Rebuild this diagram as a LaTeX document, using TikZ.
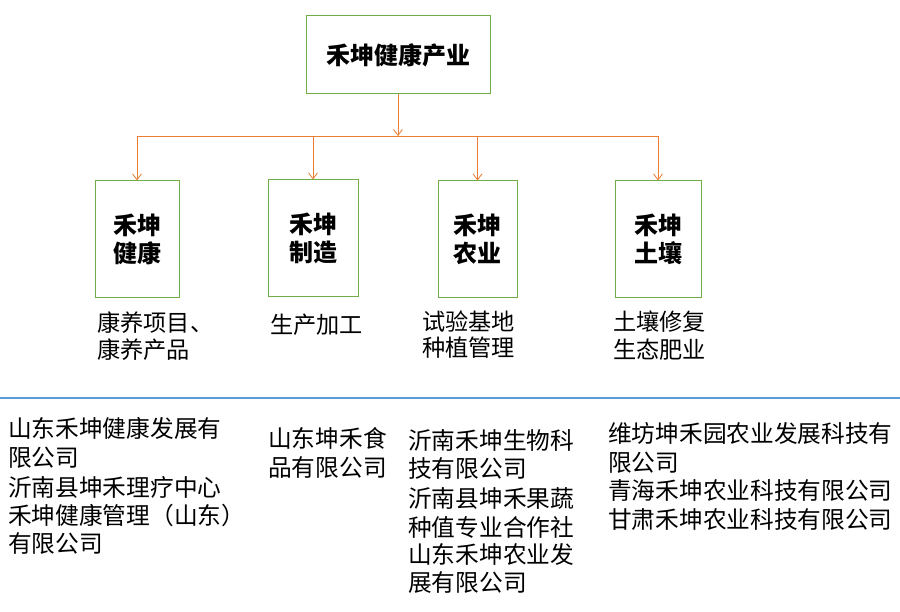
\documentclass[tikz,border=0pt]{standalone}
\usepackage{fontspec}
\setmainfont{Noto Sans CJK SC}
\usetikzlibrary{arrows.meta}
\definecolor{boxgreen}{HTML}{70AD47}
\definecolor{arrorange}{HTML}{ED7D31}
\definecolor{lineblue}{HTML}{5B9BD5}
\tikzset{
  unitbox/.style={draw=boxgreen, line width=1pt, inner sep=0pt, align=center,
    font=\fontsize{24}{28}\selectfont\bfseries},
  conn/.style={draw=arrorange, line width=0.8pt},
  arr/.style={conn, -{Straight Barb[length=6pt,width=9pt,line width=0.8pt]}},
  lbl/.style={anchor=base west, inner sep=0pt, font=\fontsize{23.2}{26}\selectfont},
  body/.style={anchor=base west, inner sep=0pt, font=\fontsize{23.7}{28}\selectfont},
}
\begin{document}
\begin{tikzpicture}[x=1pt,y=-1pt]
\useasboundingbox (0,0) rectangle (900,612);
% boxes
\node[unitbox, minimum width=184pt, minimum height=78pt] (top) at (398,55) {禾坤健康产业};
\node[unitbox, minimum width=84pt, minimum height=117pt] (b1) at (137,239.5) {禾坤\\健康};
\node[unitbox, minimum width=90pt, minimum height=117pt] (b2) at (313,238.5) {禾坤\\制造};
\node[unitbox, minimum width=79pt, minimum height=117pt] (b3) at (477.5,239.5) {禾坤\\农业};
\node[unitbox, minimum width=86pt, minimum height=117pt] (b4) at (658,239.5) {禾坤\\土壤};
% connectors
\coordinate (busL) at (137,136);
\coordinate (busR) at (658,136);
\draw[conn] (busL) -- (busR);
\draw[arr] (top.south) -- (top.south |- busL);
\draw[arr] (b1.north |- busL) -- (b1.north);
\draw[arr] (b2.north |- busL) -- (b2.north);
\draw[arr] (b3.north |- busL) -- (b3.north);
\draw[arr] (b4.north |- busL) -- (b4.north);
% labels
\node[lbl] (l1a) at (97,331.5) {康养项目、};
\node[lbl] (l1b) at (97,358.5) {康养产品};
\node[lbl] (l2a) at (270,333.5) {生产加工};
\node[lbl] (l3a) at (422,330.5) {试验基地};
\node[lbl] (l3b) at (422,356.5) {种植管理};
\node[lbl] (l4a) at (613,330.5) {土壤修复};
\node[lbl] (l4b) at (613,358.5) {生态肥业};
% separator
\coordinate (sepL) at (0,398);
\coordinate (sepR) at (900,398);
\draw[lineblue, line width=1.2pt] (sepL) -- (sepR);
% companies
\node[body] (c1a) at (8,437) {山东禾坤健康发展有};
\node[body] (c1b) at (8,466) {限公司};
\node[body] (c1c) at (8,496) {沂南县坤禾理疗中心};
\node[body] (c1d) at (8,524) {禾坤健康管理（山东）};
\node[body] (c1e) at (8,552) {有限公司};
\node[body] (c2a) at (268,447) {山东坤禾食};
\node[body] (c2b) at (268,476) {品有限公司};
\node[body] (c3a) at (408,449) {沂南禾坤生物科};
\node[body] (c3b) at (408,477) {技有限公司};
\node[body] (c3c) at (408,507) {沂南县坤禾果蔬};
\node[body] (c3d) at (408,536) {种值专业合作社};
\node[body] (c3e) at (408,563) {山东禾坤农业发};
\node[body] (c3f) at (408,591) {展有限公司};
\node[body] (c4a) at (608,442) {维坊坤禾园农业发展科技有};
\node[body] (c4b) at (608,471) {限公司};
\node[body] (c4c) at (608,499) {青海禾坤农业科技有限公司};
\node[body] (c4d) at (608,528) {甘肃禾坤农业科技有限公司};
\end{tikzpicture}
\end{document}
